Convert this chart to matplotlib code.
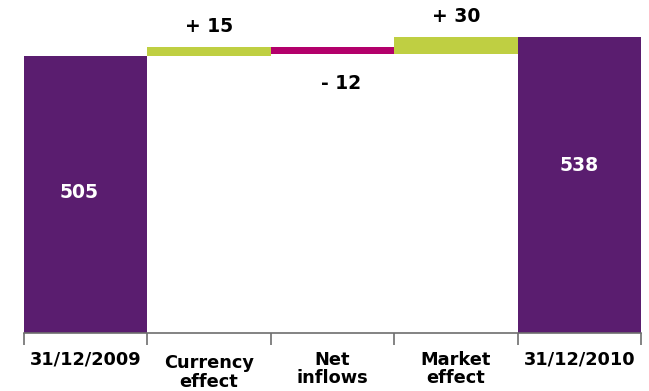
import numpy as np
import matplotlib
matplotlib.use("Agg")
import matplotlib.pyplot as plt

# waterfall data (EUR bn style bridge)
categories = ["31/12/2009", "Currency\neffect", "Net\ninflows", "Market\neffect", "31/12/2010"]
start_value = 505
changes     = [15, -12, 30]
end_value   = 538
change_text = ["+ 15", "- 12", "+ 30"]

PURPLE  = "#5a1d6f"
GREEN   = "#bfcf42"
MAGENTA = "#b3006b"
GRID    = "#6e6e6e"

# bar geometry from the running total
cum     = start_value + np.concatenate([[0], np.cumsum(changes)])
bottoms = [0] + list(np.minimum(cum[:-1], cum[1:])) + [0]
heights = [start_value] + [abs(c) for c in changes] + [end_value]
colors  = [PURPLE] + [GREEN if c > 0 else MAGENTA for c in changes] + [PURPLE]
x = np.arange(len(categories))

fig = plt.figure(figsize=(6.49, 3.91), dpi=100)
ax = fig.add_axes([24 / 649, 58 / 391, 617 / 649, 333 / 391])

ax.bar(x, heights, bottom=bottoms, width=1.0, color=colors, linewidth=0)

ax.set_xlim(-0.5, len(categories) - 0.5)
ax.set_ylim(0, 606)

for side in ["left", "right", "top"]:
    ax.spines[side].set_visible(False)
ax.spines["bottom"].set_color(GRID)
ax.spines["bottom"].set_linewidth(1.2)
ax.set_yticks([])

# ticks at the bar edges, labels drawn separately
ax.set_xticks(np.arange(len(categories) + 1) - 0.5)
ax.set_xticklabels([])
ax.tick_params(axis="x", direction="out", length=8.5, width=1.2, color=GRID)

label_shift = [0, -3.5, 0, 0, 0]
for i, lab in enumerate(categories):
    ax.annotate(lab, xy=(x[i], 0), xycoords=("data", "axes fraction"),
                xytext=(0, -12.8 + label_shift[i] * 0.72), textcoords="offset points",
                ha="center", va="top", fontsize=12.8, fontweight="bold",
                linespacing=1.02, color="black")

# totals inside the purple bars
ax.text(x[0] - 0.05, start_value * 0.505, str(start_value), ha="center", va="center",
        color="white", fontsize=13.5, fontweight="bold")
ax.text(x[-1], end_value * 0.565, str(end_value), ha="center", va="center",
        color="white", fontsize=13.5, fontweight="bold")

# change labels above (increase) or below (decrease)
for i, c in enumerate(changes):
    xi = x[i + 1]
    if c > 0:
        ax.annotate(change_text[i], xy=(xi, cum[i + 1]), xytext=(0, 15),
                    textcoords="offset points", ha="center", va="center",
                    fontsize=13.5, fontweight="bold")
    else:
        ax.annotate(change_text[i], xy=(xi + 0.07, cum[i + 1]), xytext=(0, -21),
                    textcoords="offset points", ha="center", va="center",
                    fontsize=13.5, fontweight="bold")

fig.savefig("out.png", dpi=100)
